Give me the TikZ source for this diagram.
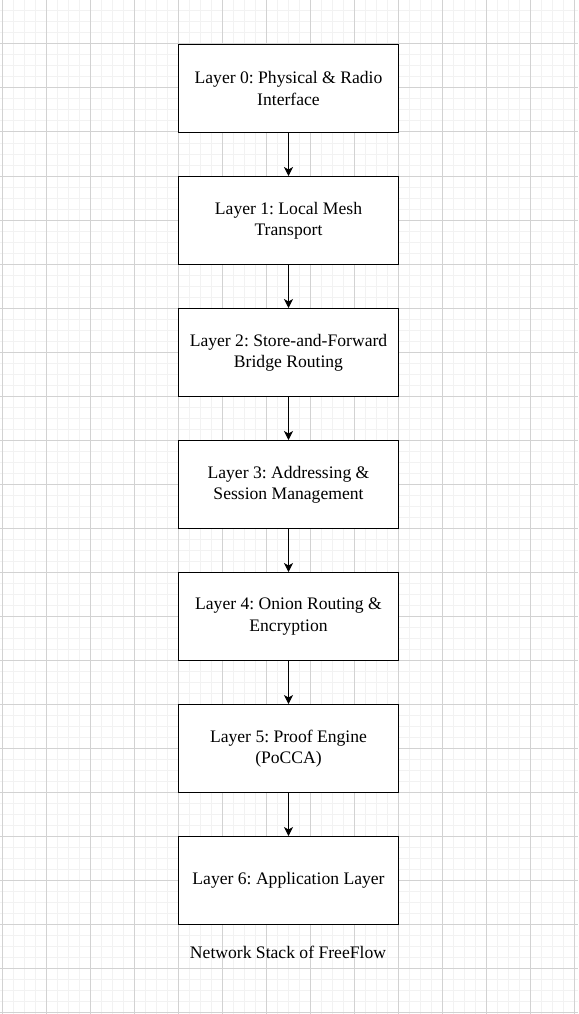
\documentclass[tikz,border=0pt]{standalone}
\usepackage{fontspec}
\setmainfont{Liberation Serif}
\usetikzlibrary{arrows.meta}
\definecolor{minorgrid}{RGB}{242,242,242}
\definecolor{majorgrid}{RGB}{210,210,210}
\frenchspacing
\begin{document}
\begin{tikzpicture}[x=1pt,y=-1pt,
    layer/.style={draw=black,line width=1pt,fill=white,minimum width=220pt,
        minimum height=88pt,inner sep=0pt,align=center,
        font=\fontsize{17.6}{21.4}\selectfont},
    caption/.style={font=\fontsize{17.6}{21.4}\selectfont},
    flow/.style={-{Stealth[length=9pt,width=9pt,inset=2.5pt]},line width=1pt}]
    \useasboundingbox (0,0) rectangle (578,1014);
    \fill[white] (0,0) rectangle (578,1014);
    % the grid
    \foreach \x in {2,13,...,578} \draw[minorgrid,line width=1pt] (\x,0) -- (\x,1014);
    \foreach \y in {0,11,...,1014} \draw[minorgrid,line width=1pt] (0,\y) -- (578,\y);
    \foreach \x in {2,46,...,578} \draw[majorgrid,line width=1pt] (\x,0) -- (\x,1014);
    \foreach \y in {0,44,...,1014} \draw[majorgrid,line width=1pt] (0,\y) -- (578,\y);

    % the layers
    \node[layer] (l0) at (288.5,88.5) {Layer 0: Physical \& Radio\\Interface};
    \node[layer] (l1) at (288.5,220.5) {Layer 1: Local Mesh\\Transport};
    \node[layer] (l2) at (288.5,352.5) {Layer 2: Store-and-Forward\\Bridge Routing};
    \node[layer] (l3) at (288.5,484.5) {Layer 3: Addressing \&\\Session Management};
    \node[layer] (l4) at (288.5,616.5) {Layer 4: Onion Routing \&\\Encryption};
    \node[layer] (l5) at (288.5,748.5) {Layer 5: Proof Engine\\(PoCCA)};
    \node[layer] (l6) at (288.5,880.5) {Layer 6: Application Layer};

    \node[caption] (cap) at (288,952) {Network Stack of FreeFlow};

    \draw[flow] (l0) -- (l1);
    \draw[flow] (l1) -- (l2);
    \draw[flow] (l2) -- (l3);
    \draw[flow] (l3) -- (l4);
    \draw[flow] (l4) -- (l5);
    \draw[flow] (l5) -- (l6);

  \end{tikzpicture}
\end{document}
